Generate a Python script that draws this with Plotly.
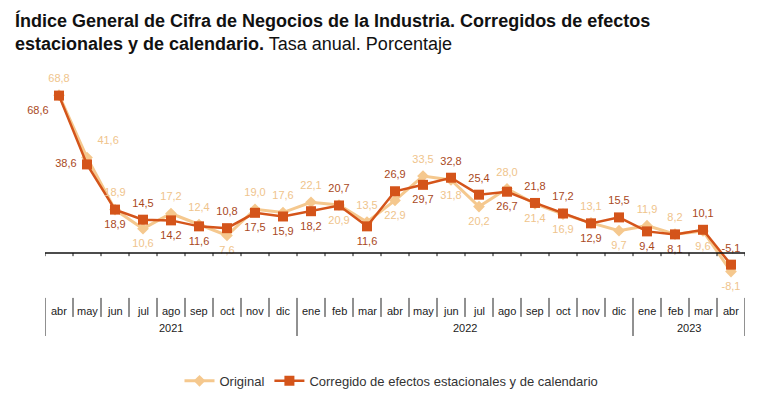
import plotly.graph_objects as go

# ---- data ----
months = ["abr", "may", "jun", "jul", "ago", "sep", "oct", "nov", "dic",
          "ene", "feb", "mar", "abr", "may", "jun", "jul", "ago", "sep", "oct", "nov", "dic",
          "ene", "feb", "mar", "abr"]
years = ["2021", "2022", "2023"]
year_spans = [(0, 8), (9, 20), (21, 24)]

original = [68.8, 41.6, 18.9, 10.6, 17.2, 12.4, 7.6, 19.0, 17.6,
            22.1, 20.9, 13.5, 22.9, 33.5, 31.8, 20.2, 28.0, 21.4, 16.9, 13.1, 9.7,
            11.9, 8.2, 9.6, -8.1]
corregido = [68.6, 38.6, 18.9, 14.5, 14.2, 11.6, 10.8, 17.5, 15.9,
             18.2, 20.7, 11.6, 26.9, 29.7, 32.8, 25.4, 26.7, 21.8, 17.2, 12.9, 15.5,
             9.4, 8.1, 10.1, -5.1]

pos_orig = ["top center", "top right", "top center", "bottom center", "top center", "top center",
            "bottom center", "top center", "top center", "top center", "bottom center", "top center",
            "bottom center", "top center", "bottom center", "bottom center", "top center",
            "bottom center", "bottom center", "top center", "bottom center", "top center",
            "top center", "bottom center", "bottom center"]
pos_corr = ["bottom left", "middle left", "bottom center", "top center", "bottom center",
            "bottom center", "top center", "bottom center", "bottom center", "bottom center",
            "top center", "bottom center", "top center", "bottom center", "top center",
            "top center", "bottom center", "top center", "top center", "bottom center",
            "top center", "bottom center", "bottom center", "top center", "top center"]

ORIG_C, CORR_C = "#F5C88E", "#D4541A"
ORIG_T, CORR_T = "#EFC48C", "#A9481C"
FONT = "Liberation Sans, Arial, sans-serif"

x = list(range(len(months)))
fmt = lambda v: f"{v:.1f}".replace(".", ",")

fig = go.Figure()
fig.add_trace(go.Scatter(
    x=x, y=original, mode="lines+markers", name="Original",
    line=dict(color=ORIG_C, width=3),
    marker=dict(symbol="diamond", size=9, color=ORIG_C),
    cliponaxis=False,
))
fig.add_trace(go.Scatter(
    x=x, y=corregido, mode="lines+markers",
    name="Corregido de efectos estacionales y de calendario",
    line=dict(color=CORR_C, width=2.5),
    marker=dict(symbol="square", size=10, color=CORR_C),
    cliponaxis=False,
))
# value labels (invisible markers keep the text clear of the points)
fig.add_trace(go.Scatter(
    x=x, y=original, mode="markers+text", text=[fmt(v) for v in original],
    marker=dict(size=15, opacity=0),
    textposition=pos_orig, textfont=dict(color=ORIG_T, size=11, family=FONT),
    showlegend=False, hoverinfo="skip", cliponaxis=False,
))
fig.add_trace(go.Scatter(
    x=x, y=corregido, mode="markers+text", text=[fmt(v) for v in corregido],
    marker=dict(size=15, opacity=0),
    textposition=pos_corr, textfont=dict(color=CORR_T, size=11, family=FONT),
    showlegend=False, hoverinfo="skip", cliponaxis=False,
))

n = len(months)
shapes = [dict(type="line", x0=-0.5, x1=n - 0.5, y0=0, y1=0,
               line=dict(color="#111", width=1.5))]
year_bounds = {-0.5} | {b[1] + 0.5 for b in year_spans}
for k in range(n + 1):
    b = k - 0.5
    shapes.append(dict(type="line", x0=b, x1=b, y0=0, y1=-1.4,
                       line=dict(color="#111", width=1)))
    y1 = -36.2 if b in year_bounds else -27.9
    shapes.append(dict(type="line", x0=b, x1=b, y0=-19.6, y1=y1,
                       line=dict(color="#222", width=1)))

# page body has an 8px offset, so the figure is laid out 8px up/left
L, T, PW, PH = 37, 72, 700, 267
annotations = [dict(
    text="<b>Índice General de Cifra de Negocios de la Industria. Corregidos de efectos"
         "<br>estacionales y de calendario.</b> Tasa anual. Porcentaje",
    xref="paper", yref="paper", x=(5 - L) / PW, y=1 + (T - 0) / PH,
    xanchor="left", yanchor="top", align="left", showarrow=False,
    font=dict(size=18, color="#111", family=FONT),
)]
for i, m in enumerate(months):
    annotations.append(dict(x=i, y=-25.3, text=m, showarrow=False,
                            font=dict(size=11, color="#222", family=FONT)))
for yr, (a, b) in zip(years, year_spans):
    annotations.append(dict(x=(a + b) / 2, y=-32.7, text=yr, showarrow=False,
                            font=dict(size=11, color="#222", family=FONT)))

fig.update_layout(
    width=774, height=407,
    paper_bgcolor="white", plot_bgcolor="white",
    margin=dict(l=L, r=774 - L - PW, t=T, b=407 - T - PH),
    font=dict(family=FONT, color="#222"),
    xaxis=dict(range=[-0.5, n - 0.5], visible=False, fixedrange=True),
    yaxis=dict(range=[-41, 75.4], visible=False, fixedrange=True),
    shapes=shapes, annotations=annotations,
    showlegend=True,
    legend=dict(orientation="h", x=0.495, xanchor="center", y=-0.127, yanchor="middle",
                font=dict(size=13, color="#333", family=FONT), bgcolor="rgba(0,0,0,0)"),
)

fig.write_html("out.html")
